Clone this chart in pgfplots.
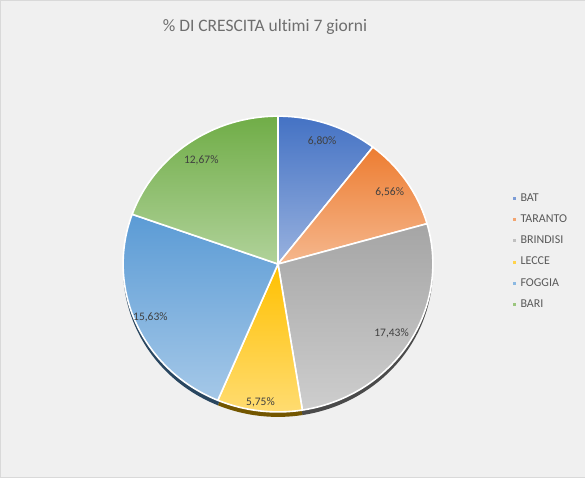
\documentclass[border=0pt]{standalone}
\usepackage{fontspec}
\setmainfont{Carlito}[Ligatures=CommonOff]
\usepackage{pgfplots}
\usepackage{pgfplotstable}
\pgfplotsset{compat=1.18}

\definecolor{cBAT}{HTML}{4472C4}
\definecolor{cTAR}{HTML}{ED7D31}
\definecolor{cBRI}{HTML}{A5A5A5}
\definecolor{cLEC}{HTML}{FFC000}
\definecolor{cFOG}{HTML}{5B9BD5}
\definecolor{cBARI}{HTML}{70AD47}
\definecolor{bggray}{HTML}{F0F0F0}
\definecolor{titlegray}{HTML}{6E6E6E}
\definecolor{labelgray}{HTML}{404040}
\definecolor{leggray}{HTML}{595959}

% name, value (%), colour, label radius (fraction of the pie radius)
\pgfplotstableread{
name     val   col    lr
BAT      6.80  cBAT   0.88
TARANTO  6.56  cTAR   0.87
BRINDISI 17.43 cBRI   0.87
LECCE    5.75  cLEC   0.94
FOGGIA   15.63 cFOG   0.90
BARI     12.67 cBARI  0.86
}\piedata

% pie geometry, in axis units (1 unit = 1pt)
\def\cx{278}
\def\cy{213}
\def\rx{155}
\def\ry{148}

\begin{document}
\begin{tikzpicture}
\begin{axis}[
    width=585pt, height=477pt,
    scale only axis,
    xmin=0, xmax=585, ymin=0, ymax=477,
    xtick=\empty, ytick=\empty,
    axis line style={draw=black!15},
    axis background/.style={fill=bggray},
    every axis title shift=0pt,
    title={\% DI CRESCITA ultimi 7 giorni},
    title style={at={(axis description cs:0.453,0.944)}, anchor=center,
        font=\fontsize{17.5}{20}\selectfont, text=titlegray},
    legend style={at={(axis description cs:0.872,0.603)}, anchor=north west,
        draw=none, fill=none, font=\fontsize{12}{14}\selectfont,
        text=leggray, row sep=7.9pt,
        /tikz/every odd column/.append style={column sep=3pt},
        /tikz/every even column/.append style={column sep=0pt}},
    legend cell align=left,
]
\addlegendimage{legend image code/.code={\fill[cBAT!70!white] (0pt,-1pt) rectangle (2pt,1pt);}}
\addlegendimage{legend image code/.code={\fill[cTAR!70!white] (0pt,-1pt) rectangle (2pt,1pt);}}
\addlegendimage{legend image code/.code={\fill[cBRI!70!white] (0pt,-1pt) rectangle (2pt,1pt);}}
\addlegendimage{legend image code/.code={\fill[cLEC!70!white] (0pt,-1pt) rectangle (2pt,1pt);}}
\addlegendimage{legend image code/.code={\fill[cFOG!70!white] (0pt,-1pt) rectangle (2pt,1pt);}}
\addlegendimage{legend image code/.code={\fill[cBARI!70!white] (0pt,-1pt) rectangle (2pt,1pt);}}
\legend{BAT,TARANTO,BRINDISI,LECCE,FOGGIA,BARI}

\pgfplotsextra{
  \pgfplotstablegetrowsof{\piedata}
  \pgfmathtruncatemacro\lastrow{\pgfplotsretval-1}
  % total of the values
  \gdef\total{0}
  \foreach \i in {0,...,\lastrow}{
    \pgfplotstablegetelem{\i}{val}\of\piedata
    \pgfmathsetmacro\t{\total+\pgfplotsretval}
    \xdef\total{\t}
  }
  % shadow under the pie
  \xdef\angA{90}
  \foreach \i in {0,...,\lastrow}{
    \pgfplotstablegetelem{\i}{val}\of\piedata \let\v\pgfplotsretval
    \pgfplotstablegetelem{\i}{col}\of\piedata \let\c\pgfplotsretval
    \pgfmathsetmacro\angB{\angA-360*\v/\total}
    \fill[fill=\c!45!black] (axis cs:\cx,\cy-5) -- ++(\angA:\rx pt and \ry pt)
      arc[start angle=\angA, end angle=\angB, x radius=\rx pt, y radius=\ry pt] -- cycle;
    \xdef\angA{\angB}
  }
  % slices
  \xdef\angA{90}
  \foreach \i in {0,...,\lastrow}{
    \pgfplotstablegetelem{\i}{val}\of\piedata \let\v\pgfplotsretval
    \pgfplotstablegetelem{\i}{col}\of\piedata \let\c\pgfplotsretval
    \pgfmathsetmacro\angB{\angA-360*\v/\total}
    \path[top color=\c, bottom color=\c!55!white, draw=white, line width=1.6pt,
          line join=round]
      (axis cs:\cx,\cy) -- ++(\angA:\rx pt and \ry pt)
      arc[start angle=\angA, end angle=\angB, x radius=\rx pt, y radius=\ry pt] -- cycle;
    \xdef\angA{\angB}
  }
  % data labels
  \xdef\angA{90}
  \foreach \i in {0,...,\lastrow}{
    \pgfplotstablegetelem{\i}{val}\of\piedata \let\v\pgfplotsretval
    \pgfplotstablegetelem{\i}{lr}\of\piedata \let\lr\pgfplotsretval
    \pgfmathsetmacro\angB{\angA-360*\v/\total}
    \pgfmathsetmacro\mid{(\angA+\angB)/2}
    \pgfmathsetmacro\lx{\cx+\lr*\rx*cos(\mid)}
    \pgfmathsetmacro\ly{\cy+\lr*\ry*sin(\mid)}
    \node[font=\fontsize{11.5}{13}\selectfont, text=labelgray] at (axis cs:\lx,\ly)
      {\pgfmathprintnumber[fixed, fixed zerofill, precision=2, use comma,
        assume math mode=true]{\v}\%};
    \xdef\angA{\angB}
  }
}
\end{axis}
\end{tikzpicture}
\end{document}
